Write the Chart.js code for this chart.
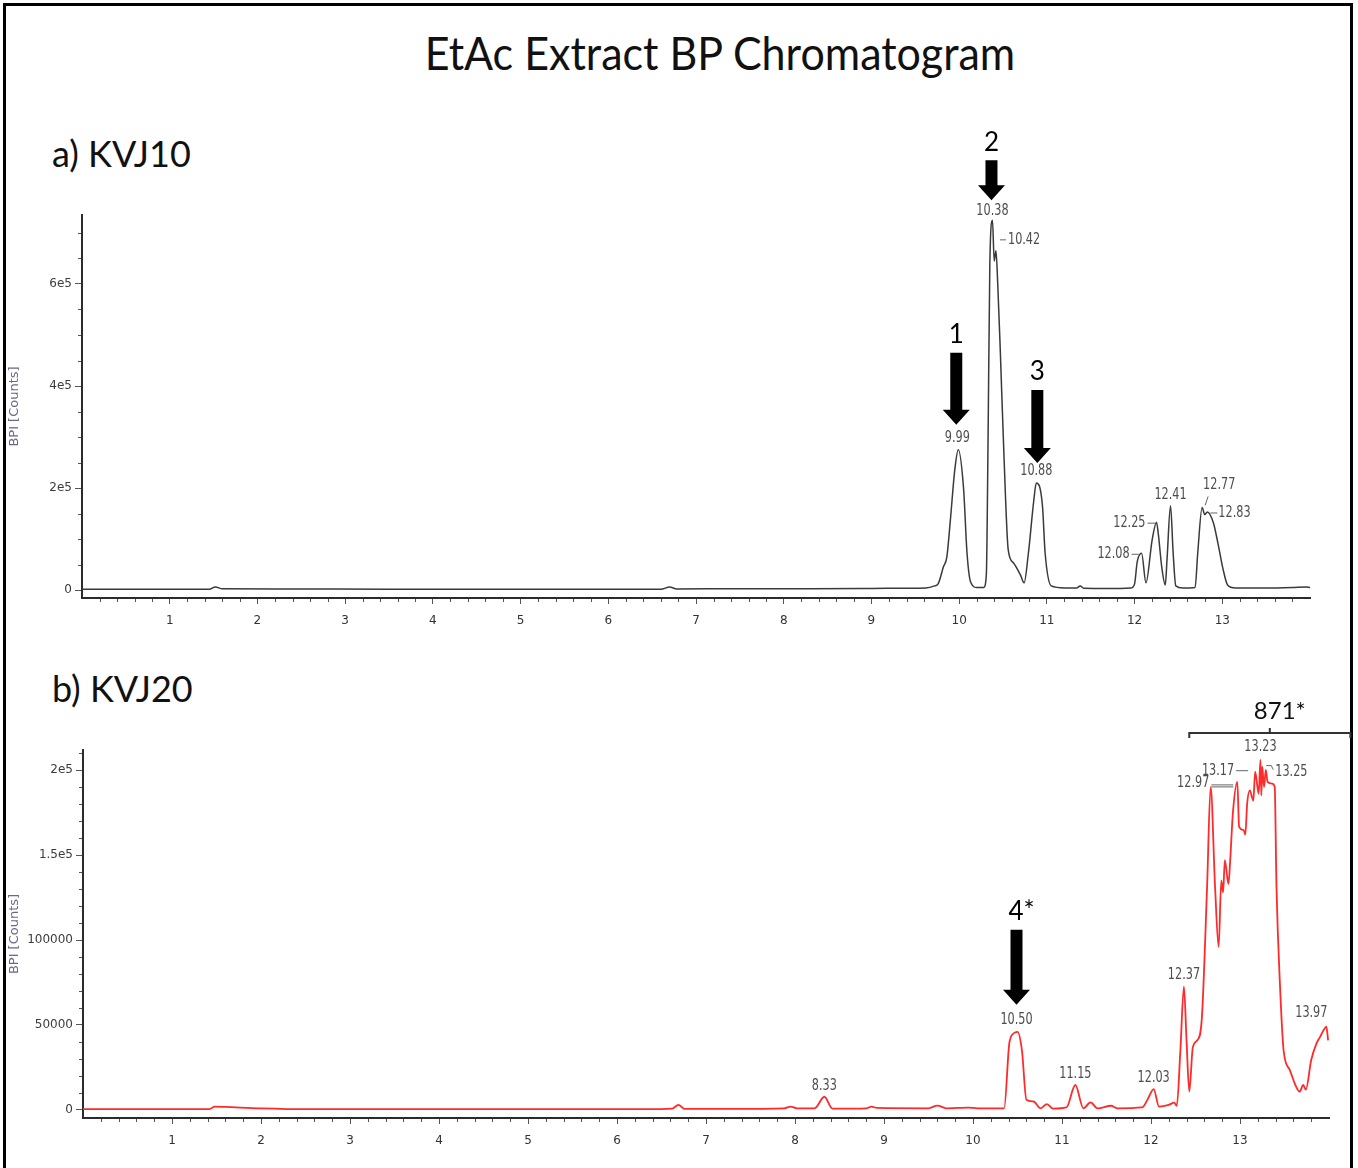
<!DOCTYPE html>
<html>
<head>
<meta charset="utf-8">
<title>EtAc Extract BP Chromatogram</title>
<script src="https://cdn.jsdelivr.net/npm/chart.js@4.4.1/dist/chart.umd.min.js"></script>
<style>
    body {
        margin: 0;
        width: 1358px;
        height: 1168px;
        overflow: hidden;
        background: #fff;
        position: relative;
        font-family: Lato, "Open Sans", sans-serif;
    }
    #frame {
        position: absolute;
        left: 3px;
        top: 3px;
        width: 1350px;
        height: 1220px;
        box-sizing: border-box;
        border: 3px solid #000;
    }
    .heading {
        position: absolute;
        line-height: 1;
        color: #111;
        white-space: nowrap;
    }
    #title { left: 720px; top: 31px; font-size: 43px; transform: translateX(-50%) scaleY(1.06); }
    #labelA { left: 52px; top: 135px; font-size: 36px; }
    #labelB { left: 52px; top: 670px; font-size: 36px; }
    canvas { position: absolute; left: 0; }
    #chartA { top: 100px; }
    #chartB { top: 650px; }
</style>
</head>
<body>
<div id="frame"></div>
<div class="heading" id="title">EtAc Extract BP Chromatogram</div>
<div class="heading" id="labelA">a) KVJ10</div>
<div class="heading" id="labelB">b) KVJ20</div>
<canvas id="chartA" width="1358" height="540"></canvas>
<canvas id="chartB" width="1358" height="518"></canvas>

<script>
// KVJ10: retention time (min) and base peak intensity (counts)
const kvj10Time = [
    0.00, 1.00, 1.45, 1.52, 1.60, 2.30, 3.50, 5.00, 6.60, 6.70,
    6.78, 7.50, 8.30, 9.00, 9.40, 9.62, 9.72, 9.76, 9.82, 9.86,
    9.90, 9.95, 9.99, 10.05, 10.09, 10.13, 10.20, 10.28, 10.31, 10.33,
    10.35, 10.38, 10.40, 10.42, 10.44, 10.47, 10.51, 10.56, 10.62, 10.70,
    10.74, 10.79, 10.85, 10.88, 10.95, 10.98, 11.05, 11.20, 11.34, 11.38,
    11.42, 11.70, 11.96, 12.00, 12.03, 12.08, 12.13, 12.20, 12.25, 12.27,
    12.31, 12.35, 12.37, 12.41, 12.44, 12.47, 12.55, 12.69, 12.72, 12.77,
    12.80, 12.83, 12.90, 12.95, 13.01, 13.06, 13.15, 13.50, 13.80, 13.95,
    14.00
];
const kvj10Bpi = [
    1500, 1500, 1500, 6000, 2500, 2000, 1500, 1500, 1500, 6000,
    2000, 2500, 2500, 3000, 3500, 4000, 8000, 12000, 45000, 65000,
    137000, 235000, 275000, 200000, 72000, 16000, 5000, 5000, 30000, 300000,
    640000, 725000, 645000, 665000, 600000, 465000, 268000, 78000, 53000, 29000,
    14000, 73000, 174000, 210000, 165000, 73000, 8000, 4000, 4000, 8000,
    3500, 3000, 4000, 12000, 55000, 72000, 14000, 98000, 133000, 111000,
    45000, 10000, 60000, 165000, 72000, 8000, 4000, 5000, 72000, 162000,
    148000, 153000, 131000, 92000, 40000, 10000, 4000, 4000, 5000, 6000,
    5000
];
const kvj10PeakTimes = [9.99, 10.38, 10.42, 10.88, 12.08, 12.25, 12.41, 12.77, 12.83];
const kvj10ArrowTimes = [9.99, 10.38, 10.88];
const kvj10ArrowNames = ['1', '2', '3'];
const kvj10YTicks = [0, 200000, 400000, 600000];
const kvj10YTickLabels = ['0', '2e5', '4e5', '6e5'];

// KVJ20
const kvj20Time = [
    0.00, 1.00, 1.42, 1.48, 1.60, 2.00, 2.50, 4.00, 6.30, 6.62,
    6.69, 6.76, 7.30, 7.88, 7.95, 8.02, 8.22, 8.33, 8.42, 8.80,
    8.86, 8.92, 9.50, 9.60, 9.70, 9.95, 10.05, 10.35, 10.41, 10.47,
    10.50, 10.55, 10.60, 10.68, 10.76, 10.83, 10.90, 11.05, 11.15, 11.24,
    11.32, 11.40, 11.55, 11.62, 11.90, 11.96, 12.03, 12.09, 12.20, 12.26,
    12.29, 12.33, 12.37, 12.40, 12.43, 12.47, 12.52, 12.57, 12.63, 12.67,
    12.72, 12.76, 12.79, 12.81, 12.83, 12.87, 12.89, 12.92, 12.97, 12.99,
    13.04, 13.06, 13.08, 13.11, 13.15, 13.17, 13.21, 13.23, 13.24, 13.25,
    13.27, 13.29, 13.31, 13.36, 13.39, 13.41, 13.45, 13.49, 13.56, 13.62,
    13.67, 13.71, 13.74, 13.80, 13.86, 13.90, 13.94, 13.97, 13.99
];
const kvj20Bpi = [
    500, 500, 500, 2000, 1800, 1000, 500, 500, 500, 800,
    3000, 700, 700, 1000, 2000, 1000, 1000, 7800, 800, 1000,
    2000, 1200, 1000, 2600, 1000, 1400, 1000, 1000, 40000, 45500,
    46000, 35000, 6000, 5000, 1000, 3500, 800, 1500, 14700, 1000,
    4500, 1000, 2500, 1000, 1500, 6000, 12300, 2000, 3000, 4300,
    2500, 35000, 72500, 40000, 10800, 37000, 41000, 53000, 131000, 190000,
    131000, 96000, 135000, 128000, 147000, 133000, 147000, 174600, 193000, 166600,
    164700, 162000, 180000, 188000, 182000, 199000, 186000, 206000, 185000, 202000,
    190000, 200000, 193000, 192000, 190000, 131000, 72500, 35000, 23500, 15000,
    10800, 14700, 12000, 29400, 39200, 43000, 47000, 49000, 41000
];
const kvj20PeakTimes = [8.33, 10.50, 11.15, 12.03, 12.37, 12.97, 13.17, 13.23, 13.25, 13.97];
const kvj20ArrowTimes = [10.50];
const kvj20ArrowNames = ['4*'];
const kvj20YTicks = [0, 50000, 100000, 150000, 200000];
const kvj20YTickLabels = ['0', '50000', '100000', '1.5e5', '2e5'];
const kvj20Bracket = [12.43, 14.24];
const kvj20BracketName = '871*';

const timeTicks = [1, 2, 3, 4, 5, 6, 7, 8, 9, 10, 11, 12, 13];


// where each peak label sits relative to its apex (px), plus any leader line
const kvj10LabelPlace = [
    { dx: -1, dy: -12, align: 'center' },
    { dx: 0, dy: -9, align: 'center' },
    { dx: 12, dy: -11, align: 'left', leader: [[4, -11], [10, -11]] },
    { dx: 0, dy: -12, align: 'center' },
    { dx: -12, dy: 1, align: 'right', leader: [[-10, 1], [-3, 1]] },
    { dx: -11, dy: 1, align: 'right', leader: [[-9, 1], [-1, 1]] },
    { dx: 0, dy: -11, align: 'center' },
    { dx: 1, dy: -22, align: 'left', leader: [[3, -2], [6, -11]] },
    { dx: 11, dy: 1, align: 'left', leader: [[3, 1], [10, 1]] }
];
const kvj20LabelPlace = [
    { dx: 0, dy: -11, align: 'center' },
    { dx: -1, dy: -12, align: 'center' },
    { dx: 0, dy: -11, align: 'center' },
    { dx: 0, dy: -11, align: 'center' },
    { dx: 0, dy: -12, align: 'center' },
    { dx: -28, dy: 1, align: 'right', leader: [[-26, 3], [-4, 3]], double: true },
    { dx: -21, dy: -1, align: 'right', leader: [[-19, -1], [-7, -1]] },
    { dx: 0, dy: -13, align: 'center' },
    { dx: 13, dy: 6, align: 'left', leader: [[4, -1], [9, -1], [11, 3]] },
    { dx: -15, dy: -14, align: 'center' }
];
const kvj10ArrowPlace = [
    { dx: -2, gap: 25, length: 72 },
    { dx: -1, gap: 20, length: 40 },
    { dx: 1, gap: 20, length: 73 }
];
const kvj20ArrowPlace = [
    { dx: -1, gap: 27, length: 75, nameDx: 5 }
];


function drawPeakLabel(ctx, text, x, y, align) {
    ctx.save();
    ctx.translate(x, y);
    ctx.scale(0.75, 1);   // squeeze to the narrow instrument font
    ctx.textAlign = align;
    ctx.textBaseline = 'middle';
    ctx.fillText(text, 0, 0);
    ctx.restore();
}

// minor ticks, peak labels, arrows and the bracket over a peak group
const chromMarks = {
    id: 'chromMarks',
    afterDraw(chart, args, opts) {
        const { ctx, chartArea } = chart;
        const xs = chart.scales.x;
        const ys = chart.scales.y;
        const pts = chart.data.datasets[0].data;

        const apex = t => {
            const p = pts.find(d => d.x === t);
            return { x: xs.getPixelForValue(t), y: ys.getPixelForValue(p.y) };
        };

        ctx.save();
        ctx.strokeStyle = '#555';
        ctx.lineWidth = 1;
        ctx.beginPath();
        const nx = Math.round(xs.max / opts.minorX);
        for (let i = 1; i < nx; i++) {
            const v = i * opts.minorX;
            if (Math.abs(v - Math.round(v)) < 1e-6) continue;
            const x = Math.round(xs.getPixelForValue(v)) + 0.5;
            ctx.moveTo(x, chartArea.bottom + 1);
            ctx.lineTo(x, chartArea.bottom + 4);
        }
        for (let i = 1; i * opts.minorY <= ys.max; i++) {
            const v = i * opts.minorY;
            if (v % opts.majorY === 0) continue;
            const y = Math.round(ys.getPixelForValue(v)) + 0.5;
            ctx.moveTo(chartArea.left - 4, y);
            ctx.lineTo(chartArea.left - 1, y);
        }
        ctx.stroke();

        // retention time labels
        ctx.font = '15px "DejaVu Sans"';
        ctx.fillStyle = '#4d4d4d';
        ctx.strokeStyle = '#666';
        ctx.lineWidth = 1;
        opts.peaks.forEach((t, i) => {
            const pl = opts.labelPlace[i];
            const p = apex(t);
            if (pl.leader) {
                const offsets = pl.double ? [0, 2] : [0];
                offsets.forEach(o => {
                    ctx.beginPath();
                    pl.leader.forEach(([lx, ly], k) => {
                        if (k === 0) ctx.moveTo(p.x + lx, p.y + ly + o);
                        else ctx.lineTo(p.x + lx, p.y + ly + o);
                    });
                    ctx.stroke();
                });
            }
            drawPeakLabel(ctx, t.toFixed(2), p.x + pl.dx, p.y + pl.dy, pl.align);
        });

        // numbered arrows
        ctx.fillStyle = '#000';
        opts.arrows.forEach((t, i) => {
            const a = opts.arrowPlace[i];
            const p = apex(t);
            const cx = p.x + a.dx;
            const tip = p.y - a.gap;
            const top = tip - a.length;
            ctx.beginPath();
            ctx.moveTo(cx - 6, top);
            ctx.lineTo(cx + 6, top);
            ctx.lineTo(cx + 6, tip - 15);
            ctx.lineTo(cx + 13.5, tip - 15);
            ctx.lineTo(cx, tip);
            ctx.lineTo(cx - 13.5, tip - 15);
            ctx.lineTo(cx - 6, tip - 15);
            ctx.closePath();
            ctx.fill();
            ctx.font = '26px Lato';
            ctx.textAlign = 'center';
            ctx.textBaseline = 'middle';
            ctx.fillText(opts.arrowNames[i], cx + (a.nameDx || 0), top - 18);
        });

        if (opts.bracket) {
            const x0 = xs.getPixelForValue(opts.bracket[0]);
            const x1 = xs.getPixelForValue(opts.bracket[1]);
            const mid = (x0 + x1) / 2;
            const y = chartArea.top - 17;
            ctx.strokeStyle = '#333';
            ctx.lineWidth = 2;
            ctx.beginPath();
            ctx.moveTo(x0, y + 5);
            ctx.lineTo(x0, y);
            ctx.lineTo(x1, y);
            ctx.lineTo(x1, y + 5);
            ctx.moveTo(mid, y);
            ctx.lineTo(mid, y - 5);
            ctx.stroke();
            ctx.fillStyle = '#111';
            ctx.font = '24px Lato';
            ctx.textAlign = 'center';
            ctx.textBaseline = 'middle';
            ctx.fillText(opts.bracketName, mid + 10, y - 22);
        }
        ctx.restore();
    }
};


function makeChromatogram(canvasId, cfg) {
    const points = cfg.time.map((t, i) => ({ x: t, y: cfg.bpi[i] }));
    const tickFont = { family: '"DejaVu Sans"', size: 12 };

    return new Chart(document.getElementById(canvasId), {
        type: 'line',
        data: {
            datasets: [{
                data: points,
                borderColor: cfg.color,
                borderWidth: cfg.lineWidth,
                pointRadius: 0,
                cubicInterpolationMode: 'monotone',
                fill: false
            }]
        },
        options: {
            responsive: false,
            animation: false,
            devicePixelRatio: 1,
            layout: { padding: cfg.padding },
            plugins: {
                legend: { display: false },
                tooltip: { enabled: false },
                chromMarks: {
                    minorX: 0.2,
                    minorY: cfg.minorY,
                    majorY: cfg.majorY,
                    peaks: cfg.peaks,
                    labelPlace: cfg.labelPlace,
                    arrows: cfg.arrows,
                    arrowNames: cfg.arrowNames,
                    arrowPlace: cfg.arrowPlace,
                    bracket: cfg.bracket,
                    bracketName: cfg.bracketName
                }
            },
            scales: {
                x: {
                    type: 'linear',
                    min: 0,
                    max: 14,
                    afterBuildTicks: scale => {
                        scale.ticks = timeTicks.map(v => ({ value: v }));
                    },
                    afterFit: scale => { scale.height = cfg.xAxisHeight; },
                    ticks: {
                        font: tickFont,
                        color: '#333',
                        padding: 10,
                        maxRotation: 0,
                        callback: v => String(v)
                    },
                    grid: { drawOnChartArea: false, tickLength: 6, color: '#555' },
                    border: { color: '#2b2b2b', width: 2 }
                },
                y: {
                    min: cfg.yMin,
                    max: cfg.yMax,
                    afterBuildTicks: scale => {
                        scale.ticks = cfg.yTicks.map(v => ({ value: v }));
                    },
                    afterFit: scale => { scale.width = cfg.yAxisWidth; },
                    ticks: {
                        font: tickFont,
                        color: '#3c3c3c',
                        padding: 3,
                        callback: (v, i) => cfg.yTickLabels[i]
                    },
                    title: {
                        display: true,
                        text: 'BPI [Counts]',
                        color: '#6e6688',
                        font: { family: '"DejaVu Sans"', size: 13 },
                        padding: { top: 7, bottom: 0 }
                    },
                    grid: { drawOnChartArea: false, tickLength: 7, color: '#555' },
                    border: { color: '#2b2b2b', width: 2 }
                }
            }
        },
        plugins: [chromMarks]
    });
}


makeChromatogram('chartA', {
    time: kvj10Time,
    bpi: kvj10Bpi,
    color: '#3a3a3a',
    lineWidth: 1.5,
    padding: { top: 115, right: 48, left: 0, bottom: 0 },
    xAxisHeight: 42,
    yAxisWidth: 82,
    yMin: -15686,
    yMax: 735294,
    yTicks: kvj10YTicks,
    yTickLabels: kvj10YTickLabels,
    minorY: 50000,
    majorY: 200000,
    peaks: kvj10PeakTimes,
    labelPlace: kvj10LabelPlace,
    arrows: kvj10ArrowTimes,
    arrowNames: kvj10ArrowNames,
    arrowPlace: kvj10ArrowPlace
});

makeChromatogram('chartB', {
    time: kvj20Time,
    bpi: kvj20Bpi,
    color: '#ff2a2a',
    lineWidth: 1.8,
    padding: { top: 100, right: 29, left: 0, bottom: 0 },
    xAxisHeight: 50,
    yAxisWidth: 83,
    yMin: -4706,
    yMax: 211765,
    yTicks: kvj20YTicks,
    yTickLabels: kvj20YTickLabels,
    minorY: 10000,
    majorY: 50000,
    peaks: kvj20PeakTimes,
    labelPlace: kvj20LabelPlace,
    arrows: kvj20ArrowTimes,
    arrowNames: kvj20ArrowNames,
    arrowPlace: kvj20ArrowPlace,
    bracket: kvj20Bracket,
    bracketName: kvj20BracketName
});
</script>
</body>
</html>
